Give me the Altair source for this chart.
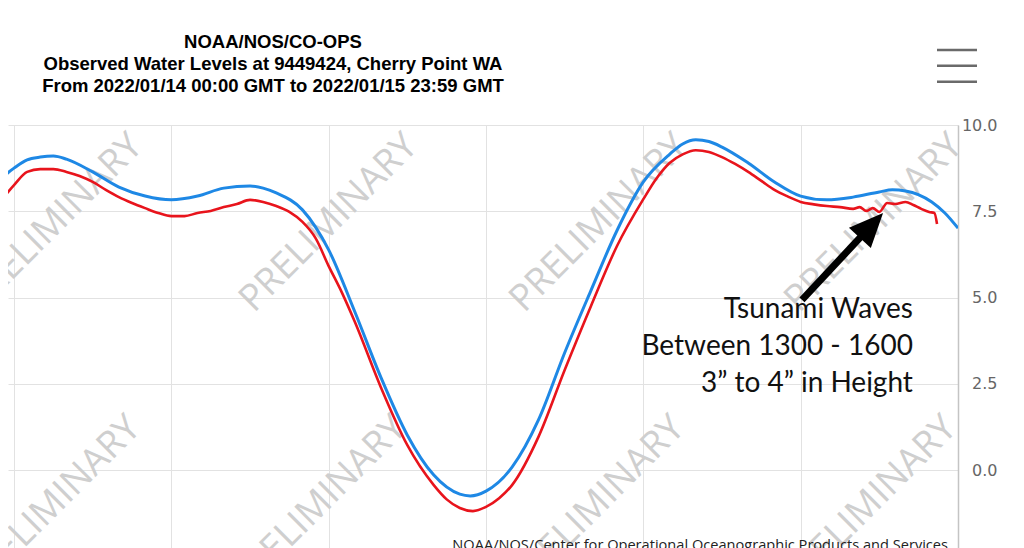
import altair as alt
import pandas as pd

# ---- data (hours since 2022-01-14 00:00 GMT, water level in ft) ----
pred_hours = [11, 12, 12.5, 13, 13.5, 14, 15, 16, 17, 18, 19, 20, 21, 21.5, 22, 23, 23.5, 24,
              25, 26, 27, 28, 29, 29.4, 30, 31, 32, 33, 34, 35, 36, 37, 37.5, 38, 38.5, 39,
              40, 41, 42, 43, 44, 45, 45.5, 46, 47, 47.5, 48]
pred_ft = [8.10, 8.75, 8.99, 9.07, 9.10, 9.01, 8.64, 8.20, 7.94, 7.83, 7.94, 8.17, 8.23, 8.17,
           8.03, 7.54, 7.04, 6.38, 4.58, 2.67, 1.01, -0.14, -0.70, -0.75, -0.61, 0.09, 1.45,
           3.40, 5.20, 6.95, 8.35, 9.15, 9.45, 9.57, 9.52, 9.36, 8.90, 8.35, 7.94, 7.83, 7.91,
           8.06, 8.12, 8.09, 7.77, 7.45, 7.01]

obs_hours = [11, 11.5, 12, 12.5, 13, 13.5, 14, 14.5, 15, 15.5, 16, 16.5, 17, 17.5, 18, 18.5,
             19, 19.5, 20, 20.5, 21, 21.5, 22, 22.5, 23, 23.5, 24, 24.5, 25, 26, 27, 28, 28.5,
             29, 29.5, 30, 30.5, 31, 32, 33, 34, 35, 36, 36.5, 37, 37.5, 38, 38.5, 39, 39.5,
             40, 40.5, 41, 41.5, 42, 42.5, 43, 43.5, 44, 44.25, 44.5, 44.75, 45, 45.3, 45.6,
             46, 46.3, 46.6, 46.9, 47.1, 47.2]
obs_ft = [7.55, 7.83, 8.26, 8.64, 8.72, 8.72, 8.64, 8.52, 8.35, 8.12, 7.91, 7.74, 7.59, 7.45,
          7.36, 7.36, 7.45, 7.51, 7.62, 7.71, 7.83, 7.77, 7.65, 7.48, 7.19, 6.72, 5.91, 5.15,
          4.29, 2.38, 0.72, -0.43, -0.85, -1.10, -1.19, -1.07, -0.82, -0.43, 0.96, 2.90, 4.75,
          6.50, 7.85, 8.45, 8.90, 9.15, 9.27, 9.22, 9.07, 8.87, 8.64, 8.38, 8.12, 7.93, 7.77,
          7.70, 7.65, 7.62, 7.57, 7.62, 7.51, 7.59, 7.48, 7.74, 7.71, 7.77, 7.68, 7.57, 7.48,
          7.45, 7.13]

x_ticks = [12, 18, 24, 30, 36, 42, 48]
y_ticks = [0, 2.5, 5, 7.5, 10]

title_lines = ["NOAA/NOS/CO-OPS",
               "Observed Water Levels at 9449424, Cherry Point WA",
               "From 2022/01/14 00:00 GMT to 2022/01/15 23:59 GMT"]
note_lines = ["Tsunami Waves", "Between 1300 - 1600", "3\u201d to 4\u201d in Height"]
credit_text = "NOAA/NOS/Center for Operational Oceanographic Products and Services"

wm_hours = [13.52, 24.01, 34.31, 44.80, 13.45, 23.59, 34.19, 44.57]
wm_levels = [7.16, 7.16, 7.16, 7.16, -1.01, -1.01, -1.01, -1.01]

arrow_tail = (42.05, 4.93)
arrow_head = (44.70, 7.09)
note_anchor = (46.28, 4.41)

# ---- chart ----
x_scale = alt.Scale(domain=[11.77, 48], nice=False, zero=False)
y_scale = alt.Scale(domain=[-2.26, 10], nice=False, zero=False)

x_axis = alt.Axis(values=x_ticks, labels=False, ticks=False, domain=False,
                  grid=True, gridColor="#e2e2e2", title=None)
y_axis = alt.Axis(orient="right", values=y_ticks, format=".1f", title=None,
                  ticks=False, labelAlign="right", labelPadding=39,
                  labelFont="DejaVu Sans", labelFontSize=16, labelColor="#666666",
                  domain=True, domainColor="#c4c4c4", domainWidth=1.5,
                  grid=True, gridColor="#e2e2e2")
X_ = alt.X("hour:Q", scale=x_scale, axis=x_axis)
Y_ = alt.Y("level:Q", scale=y_scale, axis=y_axis)

wm_df = pd.DataFrame({"hour": wm_hours, "level": wm_levels, "label": ["PRELIMINARY"] * len(wm_hours)})
watermark = alt.Chart(wm_df).mark_text(
    angle=315, font="Open Sans", fontSize=37, color="#cfcfcf", align="center", baseline="middle"
).encode(x=X_, y=Y_, text="label:N")

pred = pd.DataFrame({"hour": pred_hours, "level": pred_ft})
obs = pd.DataFrame({"hour": obs_hours, "level": obs_ft})

pred_line = alt.Chart(pred).mark_line(color="#1e88e5", strokeWidth=3, clip=True,
                                      interpolate="monotone").encode(x=X_, y=Y_)
obs_line = alt.Chart(obs).mark_line(color="#e8141c", strokeWidth=2.6, clip=True,
                                    interpolate="monotone").encode(x=X_, y=Y_)

arrow_df = pd.DataFrame({"hour": [arrow_tail[0]], "level": [arrow_tail[1]],
                         "hour2": [arrow_head[0]], "level2": [arrow_head[1]]})
shaft = alt.Chart(arrow_df).mark_rule(color="black", strokeWidth=7, strokeCap="butt").encode(
    x=X_, y=Y_, x2="hour2:Q", y2="level2:Q")
head_df = pd.DataFrame({"hour": [arrow_head[0]], "level": [arrow_head[1]]})
head = alt.Chart(head_df).mark_point(shape="M0,-1L-0.88,1L0.88,1Z", size=1156, filled=True,
                                     color="black", opacity=1, angle=43).encode(x=X_, y=Y_)

note_df = pd.DataFrame({"hour": [note_anchor[0]], "level": [note_anchor[1]],
                        "t": ["\n".join(note_lines)]})
note = alt.Chart(note_df).mark_text(align="right", baseline="alphabetic", lineBreak="\n",
                                    lineHeight=37, font="Lato", fontSize=28,
                                    color="#111111").encode(x=X_, y=Y_, text="t:N")

title_df = pd.DataFrame({"t": ["\n".join(title_lines)]})
title = alt.Chart(title_df).mark_text(align="center", baseline="alphabetic", lineBreak="\n",
                                      lineHeight=22, font="Liberation Sans", fontSize=18.5,
                                      fontWeight="bold", color="#000000").encode(
    x=alt.value(265), y=alt.value(-77), text="t:N")

credit_df = pd.DataFrame({"t": [credit_text]})
credit = alt.Chart(credit_df).mark_text(align="right", baseline="top", font="Open Sans",
                                        fontSize=14.6, color="#222222").encode(
    x=alt.value(940), y=alt.value(413), text="t:N")

ham = []
for yy in [-75, -59.3, -43.3]:
    ham.append(alt.Chart(pd.DataFrame({"a": [0]})).mark_rule(
        color="#6a6a6a", strokeWidth=2.5).encode(x=alt.value(929), x2=alt.value(969),
                                                 y=alt.value(yy)))

chart = alt.layer(watermark, pred_line, obs_line, shaft, head, note, title, credit, *ham).properties(
    width=950, height=423,
    autosize=alt.AutoSizeParams(type="none"),
    padding={"left": 0, "top": 117, "right": 50, "bottom": 0},
).configure_view(stroke=None)

chart.save("out.html", embed_options={"renderer": "svg", "actions": False})
